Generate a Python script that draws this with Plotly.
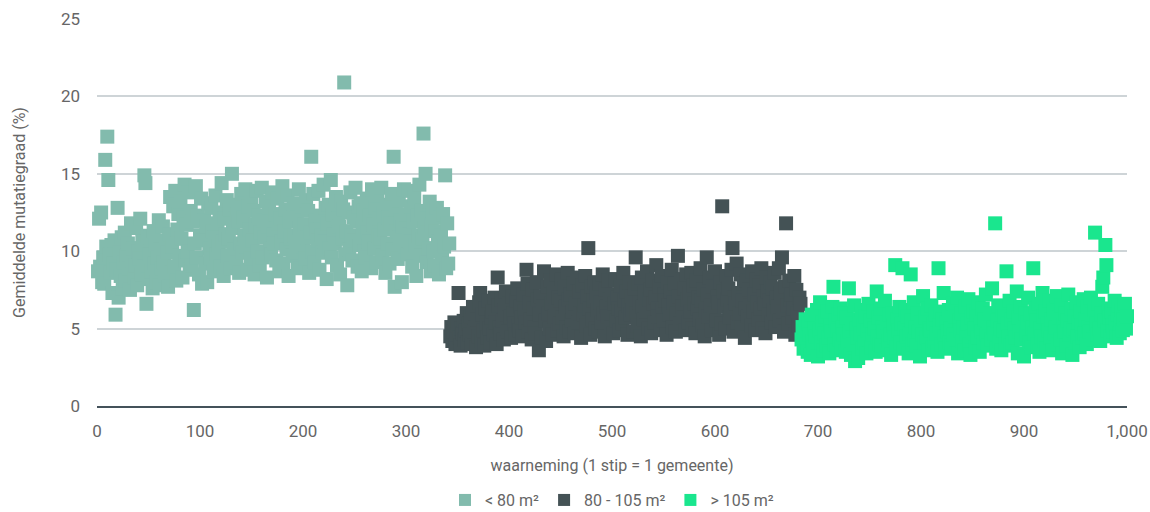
import plotly.graph_objects as go

# ---- data -------------------------------------------------------------
names = ["< 80 m²", "80 - 105 m²", "> 105 m²"]
colors = ["#82BBAD", "#445255", "#1AE68E"]

small_vals = [
    8.7, 12.1, 9.0, 12.5, 8.0, 9.6, 7.9, 15.9, 10.3, 17.4,
    14.6, 9.8, 8.6, 10.4, 7.3, 9.2, 10.7, 5.9, 8.8, 12.8,
    7.0, 9.9, 8.4, 10.9, 7.6, 9.3, 11.2, 8.1, 9.7, 10.5,
    8.9, 7.5, 11.8, 9.4, 10.2, 8.3, 9.1, 11.5, 7.8, 10.0,
    9.5, 12.1, 8.5, 10.6, 9.0, 14.9, 14.4, 6.6, 11.0, 8.2,
    9.8, 10.9, 8.7, 7.6, 11.3, 9.2, 10.4, 8.0, 9.6, 12.0,
    7.8, 10.1, 8.9, 11.6, 9.3, 8.4, 10.7, 9.9, 7.7, 11.1,
    13.5, 8.6, 10.3, 12.9, 9.0, 13.9, 8.1, 11.4, 12.4, 9.7,
    13.2, 10.8, 8.3, 12.2, 14.3, 9.4, 11.7, 10.0, 13.8, 8.8,
    12.6, 9.1, 11.9, 6.2, 10.5, 14.2, 9.6, 12.3, 8.5, 11.0,
    13.4, 7.9, 10.7, 12.0, 9.2, 11.6, 8.0, 13.1, 10.2, 9.5,
    12.8, 11.3, 8.7, 10.9, 13.6, 9.8, 11.8, 10.4, 12.5, 9.0,
    14.4, 10.6, 8.4, 12.1, 11.1, 13.3, 9.7, 10.8, 12.7, 8.9,
    15.0, 11.5, 10.1, 13.0, 9.3, 12.4, 11.9, 8.6, 10.5, 13.7,
    9.9, 12.2, 11.0, 14.0, 10.3, 8.8, 12.9, 11.4, 9.5, 13.5,
    10.7, 12.6, 8.5, 11.7, 13.9, 10.0, 12.3, 9.1, 11.2, 14.1,
    9.6, 12.0, 10.9, 13.2, 8.3, 11.6, 12.8, 10.2, 9.8, 13.8,
    11.1, 10.5, 12.4, 9.4, 13.4, 11.8, 8.7, 12.1, 10.6, 14.2,
    9.2, 11.3, 12.7, 10.1, 13.6, 8.4, 11.9, 10.8, 12.5, 9.7,
    13.1, 11.0, 10.4, 12.2, 9.0, 14.0, 11.5, 8.9, 12.9, 10.3,
    11.7, 9.5, 13.3, 10.9, 12.6, 8.6, 11.2, 16.1, 10.0, 13.7,
    9.3, 12.0, 11.4, 10.7, 13.9, 8.8, 12.3, 11.0, 9.9, 14.3,
    10.6, 12.8, 8.2, 11.8, 13.0, 10.2, 14.6, 9.6, 12.4, 11.1,
    10.5, 13.5, 9.1, 12.1, 11.6, 8.5, 13.2, 10.8, 12.7, 20.9,
    9.8, 11.3, 7.8, 12.5, 10.1, 13.8, 11.0, 9.4, 12.2, 10.7,
    14.1, 11.9, 9.0, 12.9, 10.4, 13.1, 8.7, 11.5, 12.6, 10.0,
    9.6, 13.4, 11.2, 10.6, 12.3, 8.9, 14.0, 11.7, 10.2, 12.8,
    9.3, 13.6, 11.0, 12.1, 10.8, 14.1, 9.7, 12.5, 11.4, 8.6,
    13.0, 10.5, 12.2, 9.2, 11.8, 13.7, 10.1, 16.1, 7.7, 12.7,
    11.3, 9.5, 13.3, 10.9, 12.0, 8.0, 11.6, 14.0, 10.3, 12.4,
    9.8, 13.9, 11.1, 10.6, 12.9, 9.0, 11.9, 13.5, 10.4, 8.4,
    12.3, 11.0, 14.3, 9.7, 12.6, 10.8, 17.6, 11.5, 15.0, 9.3,
    12.1, 10.2, 13.2, 8.7, 11.7, 12.5, 10.0, 9.1, 11.3, 12.8,
    10.6, 8.5, 12.2, 11.0, 9.6, 12.4, 10.3, 14.9, 8.9, 11.8,
    9.2, 10.5,
]

medium_vals = [
    4.5, 5.1, 4.2, 4.8, 5.4, 4.0, 4.6, 5.2, 7.3, 4.4,
    3.9, 5.0, 4.7, 5.5, 4.3, 4.9, 6.0, 4.1, 5.3, 4.6,
    5.8, 4.0, 6.4, 4.8, 5.1, 3.8, 5.6, 4.5, 6.7, 7.3,
    4.2, 5.9, 4.9, 3.9, 6.3, 5.2, 4.4, 6.8, 5.0, 4.1,
    5.7, 6.1, 4.6, 7.0, 5.4, 4.0, 8.3, 6.5, 5.1, 4.7,
    6.9, 5.5, 4.3, 6.2, 7.4, 5.0, 4.8, 6.6, 5.8, 4.4,
    7.1, 6.0, 5.3, 4.6, 6.8, 7.6, 5.2, 4.9, 6.4, 5.7,
    4.5, 7.2, 6.1, 5.4, 8.8, 7.9, 4.8, 6.7, 5.6, 4.3,
    7.5, 6.3, 5.1, 4.7, 8.0, 6.9, 3.6, 5.9, 7.1, 4.4,
    6.4, 8.7, 5.5, 4.2, 7.7, 6.0, 5.0, 8.1, 6.6, 4.6,
    7.3, 5.8, 6.2, 8.5, 4.9, 7.0, 5.3, 6.8, 8.2, 5.7,
    4.5, 7.6, 6.4, 5.1, 8.6, 6.9, 4.8, 7.2, 5.5, 6.1,
    7.9, 4.7, 6.6, 8.3, 5.4, 7.4, 6.0, 4.4, 7.8, 5.9,
    6.5, 8.4, 5.2, 7.1, 10.2, 6.3, 4.6, 7.7, 5.6, 6.8,
    8.0, 5.0, 7.3, 6.2, 4.8, 7.9, 6.7, 5.4, 8.5, 6.0,
    4.5, 7.5, 6.4, 5.8, 8.1, 6.9, 5.1, 7.2, 4.7, 6.6,
    8.2, 5.5, 7.0, 6.3, 4.9, 7.8, 6.1, 5.3, 8.6, 6.8,
    5.7, 7.4, 4.6, 6.5, 8.0, 5.9, 7.1, 6.2, 4.8, 7.6,
    9.6, 6.0, 5.2, 7.9, 6.7, 4.5, 8.3, 6.4, 5.6, 7.3,
    6.1, 8.7, 5.0, 6.9, 7.5, 4.7, 8.1, 6.6, 5.4, 7.0,
    9.1, 6.3, 5.8, 7.7, 4.9, 8.4, 6.2, 5.5, 7.2, 6.8,
    4.6, 8.0, 6.5, 5.9, 7.4, 8.8, 5.1, 6.7, 7.9, 4.8,
    6.0, 9.7, 7.1, 5.3, 8.2, 6.4, 5.7, 7.6, 4.9, 8.5,
    6.9, 5.4, 7.3, 6.1, 8.6, 5.0, 7.8, 6.6, 4.7, 8.1,
    6.3, 7.0, 5.6, 8.9, 6.8, 5.2, 7.5, 4.5, 6.2, 9.6,
    7.2, 5.8, 8.3, 6.5, 4.9, 7.7, 6.0, 8.7, 5.5, 7.1,
    6.7, 4.6, 8.0, 5.3, 12.9, 7.4, 6.4, 5.0, 8.4, 6.9,
    7.6, 5.7, 6.2, 8.8, 10.2, 4.8, 7.0, 6.6, 9.2, 5.4,
    7.3, 6.0, 8.5, 5.1, 6.8, 7.9, 4.4, 6.3, 8.1, 5.8,
    7.5, 6.5, 5.2, 8.7, 6.1, 7.2, 4.9, 8.2, 6.7, 5.6,
    7.8, 6.3, 8.9, 5.0, 7.1, 6.6, 4.7, 8.3, 7.4, 5.9,
    6.8, 8.0, 5.4, 7.6, 6.2, 8.6, 5.1, 7.0, 6.4, 8.9,
    5.5, 7.3, 9.6, 6.1, 4.8, 7.7, 11.8, 6.5, 5.3, 8.1,
    6.9, 7.2, 5.7, 6.3, 8.4, 4.6, 7.5, 6.0, 5.2, 7.0,
    6.6,
]

large_vals = [
    4.3, 5.1, 3.7, 4.8, 5.6, 4.0, 3.5, 5.3, 4.6, 3.3,
    5.9, 4.2, 3.8, 5.0, 4.5, 6.2, 3.2, 4.9, 6.7, 4.1,
    5.4, 3.6, 4.7, 5.8, 3.9, 6.1, 4.4, 3.4, 5.2, 4.8,
    6.4, 7.7, 4.0, 5.5, 3.6, 4.9, 5.9, 4.3, 6.3, 3.8,
    5.1, 4.6, 6.0, 3.5, 5.7, 4.2, 7.6, 4.8, 3.3, 5.3,
    4.0, 6.5, 2.9, 5.0, 4.4, 3.1, 5.6, 4.7, 6.2, 3.7,
    5.2, 4.1, 5.8, 3.4, 4.9, 6.6, 4.3, 5.5, 3.8, 4.6,
    6.1, 5.0, 3.5, 7.4, 4.5, 5.7, 4.0, 6.3, 3.9, 5.1,
    4.8, 6.8, 3.6, 5.4, 4.2, 5.9, 4.6, 3.3, 6.0, 5.2,
    4.4, 9.1, 3.8, 5.6, 4.9, 6.4, 4.1, 5.3, 8.9, 3.7,
    5.0, 6.2, 4.5, 5.8, 3.4, 4.7, 8.5, 5.5, 4.0, 6.7,
    4.3, 5.1, 3.9, 6.0, 4.8, 3.2, 5.4, 4.6, 7.1, 4.1,
    5.7, 4.4, 6.3, 3.6, 5.0, 4.9, 6.5, 3.8, 5.3, 4.2,
    5.9, 4.7, 3.5, 8.9, 5.2, 6.1, 4.0, 5.6, 7.3, 4.5,
    3.7, 5.4, 4.8, 6.2, 4.1, 5.0, 3.9, 6.6, 4.6, 5.8,
    4.3, 7.0, 3.4, 5.5, 4.9, 6.0, 4.2, 5.1, 3.6, 6.4,
    4.7, 5.3, 6.9, 4.0, 3.3, 5.7, 4.5, 6.1, 5.0, 3.8,
    5.9, 4.4, 6.7, 3.5, 5.2, 4.8, 6.3, 4.1, 5.6, 7.2,
    4.6, 3.9, 5.4, 6.0, 4.3, 7.6, 5.1, 4.7, 11.8, 3.7,
    5.5, 6.5, 4.2, 5.0, 3.6, 6.2, 4.9, 5.8, 4.0, 8.7,
    5.3, 4.5, 6.8, 3.9, 5.6, 4.1, 6.1, 5.0, 4.4, 7.4,
    3.4, 5.7, 4.8, 6.4, 4.3, 5.2, 3.2, 6.0, 4.6, 5.4,
    7.0, 4.1, 5.9, 3.8, 5.1, 8.9, 4.7, 6.3, 5.5, 4.0,
    6.6, 3.5, 5.0, 4.5, 7.3, 5.8, 4.2, 6.1, 3.7, 5.3,
    4.9, 6.8, 4.4, 5.6, 3.6, 6.2, 4.7, 5.1, 7.1, 4.0,
    5.7, 4.3, 6.5, 3.4, 5.2, 4.8, 6.0, 3.9, 5.5, 7.2,
    4.6, 5.0, 6.3, 3.3, 4.9, 5.8, 4.1, 6.7, 4.5, 5.4,
    3.8, 6.1, 5.2, 4.4, 6.9, 4.7, 5.6, 4.0, 6.4, 5.1,
    4.8, 7.0, 5.9, 4.3, 6.2, 11.2, 5.3, 4.6, 6.6, 5.0,
    4.2, 6.0, 7.7, 8.3, 5.5, 10.4, 9.1, 4.9, 6.3, 5.7,
    4.5, 6.1, 5.2, 4.8, 6.8, 5.4, 4.4, 5.9, 6.5, 4.7,
    5.3, 6.2, 4.9, 5.6, 6.6, 5.0, 5.8,
]

x_ticks = [0, 100, 200, 300, 400, 500, 600, 700, 800, 900, 1000]
x_ticktext = ["0", "100", "200", "300", "400", "500", "600", "700", "800", "900", "1,000"]
y_ticks = [0, 5, 10, 15, 20, 25]

# observation index (1 stip = 1 gemeente), groups follow each other
groups = [small_vals, medium_vals, large_vals]
fig = go.Figure()
start = 1
for name, col, vals in zip(names, colors, groups):
    xs = list(range(start, start + len(vals)))
    start += len(vals)
    fig.add_trace(go.Scatter(
        x=xs, y=vals, mode="markers", name=name,
        marker=dict(symbol="square", size=14, color=col, line=dict(width=0)),
        cliponaxis=False,
    ))

font_family = "Roboto, 'Noto Sans', Arial, sans-serif"
txt_col = "#666666"
fig.update_layout(
    width=1150, height=512,
    margin=dict(l=97, r=23, t=19, b=106, autoexpand=False),
    paper_bgcolor="white", plot_bgcolor="white",
    font=dict(family=font_family, size=17, color=txt_col),
    showlegend=True,
    legend=dict(orientation="h", x=0.5, xanchor="center", y=-0.243, yanchor="middle",
                font=dict(size=16, color=txt_col), itemsizing="constant",
                traceorder="normal", itemwidth=30),
    xaxis=dict(range=[0, 1000], tickvals=x_ticks, ticktext=x_ticktext,
               showgrid=False, zeroline=False, showline=True, linecolor="#44525A",
               linewidth=2, ticks="", ticklabelstandoff=9, automargin=False,
               ticklabeloverflow="allow",
               tickfont=dict(size=17, color=txt_col),
               title=dict(text="waarneming (1 stip = 1 gemeente)", standoff=19,
                          font=dict(size=16, color=txt_col))),
    yaxis=dict(range=[0, 25], tickvals=y_ticks, showgrid=True, gridcolor="#CED4D7",
               gridwidth=2, zeroline=False, showline=False, ticks="",
               ticklabelstandoff=16, automargin=False,
               tickfont=dict(size=17, color=txt_col),
               title=dict(text="Gemiddelde mutatiegraad (%)", standoff=31,
                          font=dict(size=16, color=txt_col))),
)

# remove the default 8px page margin so the 1150x512 figure fills the window
fig.write_html("out.html",
               config={"displayModeBar": False},
               post_script="document.body.style.margin='0';document.body.style.overflow='hidden';")
